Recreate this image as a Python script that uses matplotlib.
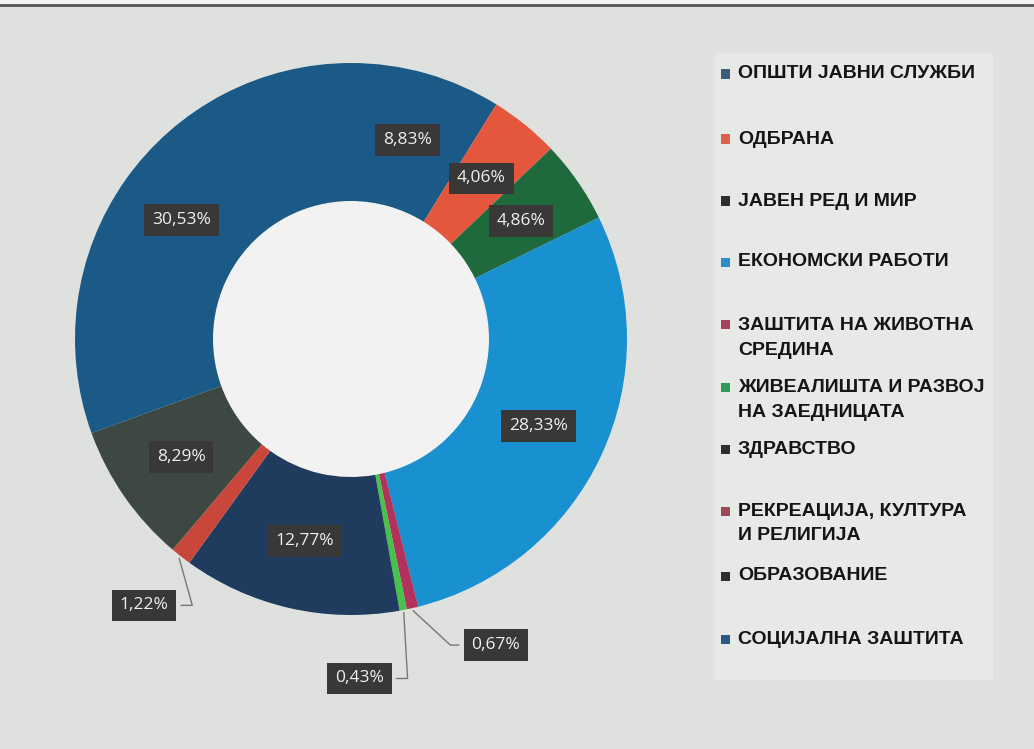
import matplotlib
matplotlib.use("Agg")
import matplotlib.pyplot as plt
from matplotlib.patches import Rectangle, Circle
import numpy as np

# data (budget shares, %)
categories = [
    "ОПШТИ ЈАВНИ СЛУЖБИ",
    "ОДБРАНА",
    "ЈАВЕН РЕД И МИР",
    "ЕКОНОМСКИ РАБОТИ",
    "ЗАШТИТА НА ЖИВОТНА\nСРЕДИНА",
    "ЖИВЕАЛИШТА И РАЗВОЈ\nНА ЗАЕДНИЦАТА",
    "ЗДРАВСТВО",
    "РЕКРЕАЦИЈА, КУЛТУРА\nИ РЕЛИГИЈА",
    "ОБРАЗОВАНИЕ",
    "СОЦИЈАЛНА ЗАШТИТА",
]
shares = [8.83, 4.06, 4.86, 28.33, 0.67, 0.43, 12.77, 1.22, 8.29, 30.53]
colors = ["#1b5a86", "#e5573d", "#1e6a3d", "#1990d0", "#b2325d",
          "#48c24a", "#1f3b5e", "#c8473a", "#3e4842", "#1b5a86"]
legend_colors = ["#3d5a78", "#e0604a", "#2e2e2e", "#2a8fc6", "#a8405f",
                 "#2e9b5a", "#2e2e2e", "#9a4a55", "#2e2e2e", "#2a5a80"]

W, H = 1034, 749
fig = plt.figure(figsize=(W / 100, H / 100), dpi=100)
fig.patch.set_facecolor("#dfe1de")

# lighter legend panel and top border
fig.patches.append(Rectangle((715 / W, 1 - 680 / H), (993 - 715) / W, (680 - 53) / H,
                             transform=fig.transFigure, fc="#e7e9e7", ec="none", zorder=0))
fig.add_artist(plt.Line2D([0, 1], [1 - 5 / H, 1 - 5 / H], transform=fig.transFigure,
                          color="#555555", lw=2))
fig.patches.append(Rectangle((0, 1 - 5 / H), 1, 5 / H, transform=fig.transFigure,
                             fc="#f4f4f4", ec="none", zorder=0))

# donut axes: centre at (351, 339) px, outer radius 276 px
cx, cy, R = 351, 339, 276
span = 1.3
half = span * R
ax = fig.add_axes([(cx - half) / W, (H - cy - half) / H, 2 * half / W, 2 * half / H])
ax.axis("off")

wedges, _ = ax.pie(shares, colors=colors, startangle=90, counterclock=False, radius=1,
                   wedgeprops=dict(width=0.5, edgecolor="none"))
ax.add_patch(Circle((0, 0), 0.5, fc="#f1f2f1", ec="none", zorder=0))
ax.set_xlim(-span, span)
ax.set_ylim(-span, span)

def fmt(v):
    return f"{v:.2f}".replace(".", ",") + "%"

box = dict(boxstyle="square,pad=0.45", fc="#3a3836", ec="none")
# outside label box centres (data units) for the thin slices
outside = {4: (0.525, -1.109), 5: (0.03, -1.23), 7: (-0.75, -0.965)}

for i, (w, v) in enumerate(zip(wedges, shares)):
    mid = np.deg2rad((w.theta1 + w.theta2) / 2)
    if i not in outside:
        ax.text(0.75 * np.cos(mid), 0.75 * np.sin(mid), fmt(v), ha="center", va="center",
                fontsize=12.5, color="#f0f0f0", family="Open Sans", bbox=box)
    else:
        bx, by = outside[i]
        ax.text(bx, by, fmt(v), ha="center", va="center",
                fontsize=12.5, color="#f0f0f0", family="Open Sans", bbox=box)
        ax0 = 1.01 * np.cos(mid)
        ay0 = 1.01 * np.sin(mid)
        edge = 0.135
        if bx > ax0:
            ex = bx - edge
            ax.plot([ax0, ex - 0.03, ex], [ay0, by, by], color="#777777", lw=1)
        else:
            ex = bx + edge
            ax.plot([ax0, ex + 0.04, ex], [ay0, by, by], color="#777777", lw=1)

# legend (manually placed rows)
row_y = [74, 139, 201, 262, 325, 387, 450, 511, 576, 639]
line_gap = 25
for lab, col, y in zip(categories, legend_colors, row_y):
    fig.patches.append(Rectangle((721 / W, 1 - (y + 4.5) / H), 9 / W, 9 / H,
                                 transform=fig.transFigure, fc=col, ec="none"))
    for k, line in enumerate(lab.split("\n")):
        fig.text(738 / W, 1 - (y + k * line_gap) / H, line, ha="left", va="center",
                 fontsize=14, fontweight="bold", color="#151515",
                 family=["Liberation Sans Narrow", "Liberation Sans"])

fig.savefig("out.png", dpi=100, facecolor=fig.get_facecolor())
